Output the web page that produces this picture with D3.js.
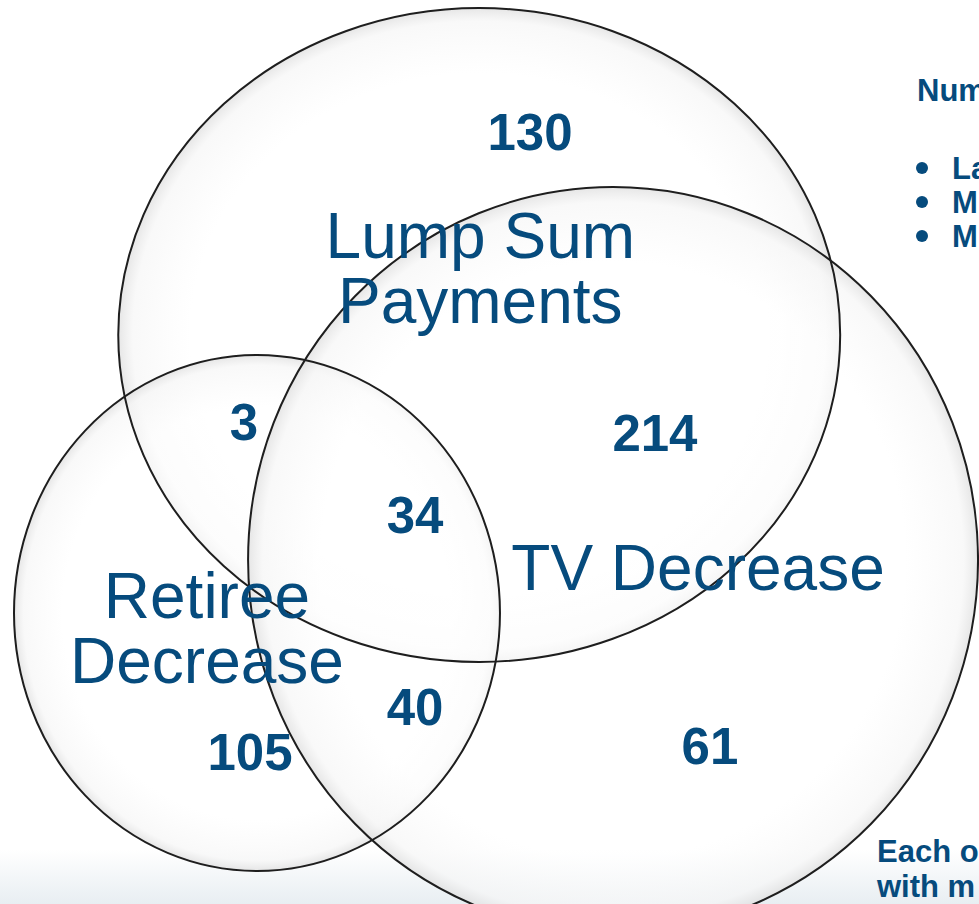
<!DOCTYPE html>
<html>
<head>
<meta charset="utf-8">
<script src="https://cdn.jsdelivr.net/npm/d3@7"></script>
<style>
html,body{margin:0;padding:0;background:#fff;overflow:hidden;}
svg{display:block;}
</style>
</head>
<body>
<script>
// ---- data ----
const setNames = ["Lump Sum Payments", "TV Decrease", "Retiree Decrease"];
const setLabelLines = [["Lump Sum", "Payments"], ["TV Decrease"], ["Retiree", "Decrease"]];
const regionKeys = ["L", "L&T", "L&R", "L&T&R", "T&R", "T", "R"];
const regionCounts = [130, 214, 3, 34, 40, 61, 105];
const sideTitle = ["Num"];
const sideBullets = ["La", "M", "M"];
const footNote = ["Each o", "with m"];

// ---- layout (geometry, in a unit coordinate space) ----
const W = 979, H = 904;
const circleGeom = [
  {cx: 0.4895, cy: 0.3706, rx: 0.3687, ry: 0.3617},
  {cx: 0.6262, cy: 0.6195, rx: 0.3728, ry: 0.4126},
  {cx: 0.2625, cy: 0.6781, rx: 0.2482, ry: 0.2854}
];
const labelGeom = [
  {x: 0.4906, y: 0.2854, dy: 0.0719},
  {x: 0.7130, y: 0.6527, dy: 0},
  {x: 0.2114, y: 0.6836, dy: 0.0719}
];
const countGeom = [
  {x: 0.5414, y: 0.1659}, {x: 0.6690, y: 0.4989}, {x: 0.2492, y: 0.4867},
  {x: 0.4239, y: 0.5896}, {x: 0.4239, y: 0.8020}, {x: 0.7252, y: 0.8451},
  {x: 0.2554, y: 0.8518}
];

const sx = d3.scaleLinear().domain([0, 1]).range([0, W]);
const sy = d3.scaleLinear().domain([0, 1]).range([0, H]);

const svg = d3.select("body").append("svg").attr("width", W).attr("height", H);
const defs = svg.append("defs");

const bg = defs.append("linearGradient").attr("id", "bg").attr("x1", 0).attr("y1", 0).attr("x2", 0).attr("y2", 1);
bg.append("stop").attr("offset", "0.94").attr("stop-color", "#ffffff");
bg.append("stop").attr("offset", "1").attr("stop-color", "#e8eef2");
svg.append("rect").attr("width", W).attr("height", H).attr("fill", "url(#bg)");

const rg = defs.append("radialGradient").attr("id", "cfill");
rg.append("stop").attr("offset", "0.80").attr("stop-color", "#ffffff").attr("stop-opacity", 0.6);
rg.append("stop").attr("offset", "0.96").attr("stop-color", "#f6f6f6").attr("stop-opacity", 0.7);
rg.append("stop").attr("offset", "1").attr("stop-color", "#e0e0e0").attr("stop-opacity", 0.8);

// draw circles in order: lump sum, retiree, tv
const order = [0, 2, 1];
const geoms = order.map(i => circleGeom[i]);
svg.append("g").selectAll("ellipse").data(geoms).join("ellipse")
  .attr("cx", d => sx(d.cx)).attr("cy", d => sy(d.cy))
  .attr("rx", d => sx(d.rx)).attr("ry", d => sy(d.ry))
  .attr("fill", "url(#cfill)").attr("stroke", "none");
svg.append("g").selectAll("ellipse").data(geoms).join("ellipse")
  .attr("cx", d => sx(d.cx)).attr("cy", d => sy(d.cy))
  .attr("rx", d => sx(d.rx)).attr("ry", d => sy(d.ry))
  .attr("fill", "none").attr("stroke", "#1e1e1e").attr("stroke-width", 2);

const blue = "#064b7d";
// set labels
const lab = svg.append("g").attr("font-family", "Liberation Sans, Arial, sans-serif")
  .attr("font-size", 64).attr("fill", blue).attr("text-anchor", "middle");
setLabelLines.forEach((lines, i) => {
  lines.forEach((t, j) => {
    lab.append("text").attr("x", sx(labelGeom[i].x)).attr("y", sy(labelGeom[i].y + j * labelGeom[i].dy))
      .text(t);
  });
});

// counts
svg.append("g").selectAll("text").data(regionCounts).join("text")
  .attr("x", (d, i) => sx(countGeom[i].x)).attr("y", (d, i) => sy(countGeom[i].y))
  .attr("font-family", "Liberation Sans, Arial, sans-serif").attr("font-weight", "bold")
  .attr("font-size", 51).attr("fill", blue).attr("text-anchor", "middle").text(d => d);

// side text
const side = svg.append("g").attr("font-family", "Liberation Sans, Arial, sans-serif")
  .attr("font-weight", "bold").attr("font-size", 31).attr("fill", blue);
side.append("text").attr("x", 917).attr("y", 101).text(sideTitle[0]);
sideBullets.forEach((t, i) => {
  side.append("circle").attr("cx", 922).attr("cy", 168 + i * 34).attr("r", 6).attr("fill", blue);
  side.append("text").attr("x", 952).attr("y", 179 + i * 34).text(t);
});
footNote.forEach((t, i) => {
  side.append("text").attr("x", 877).attr("y", 862 + i * 35).text(t);
});
</script>
</body>
</html>
